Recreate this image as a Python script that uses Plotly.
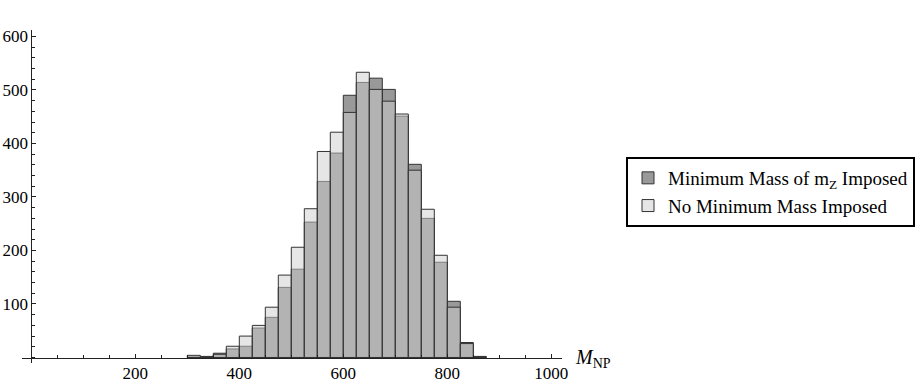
import plotly.graph_objects as go

# histogram bins (left edges, width 25)
bin_start = [300, 325, 350, 375, 400, 425, 450, 475, 500, 525, 550, 575,
             600, 625, 650, 675, 700, 725, 750, 775, 800, 825, 850]
bin_width = 25

# counts
min_mass = [1, 2, 8, 16, 21, 55, 75, 131, 165, 253, 329, 382,
            490, 514, 522, 501, 451, 361, 260, 178, 105, 28, 2]
no_min_mass = [4, 1, 6, 21, 40, 60, 94, 154, 206, 278, 385, 421,
               458, 533, 501, 479, 455, 350, 277, 191, 94, 26, 1]

x_ticks = [200, 400, 600, 800, 1000]
y_ticks = [100, 200, 300, 400, 500, 600]

W, H = 923, 384
FONT = "Times New Roman, Liberation Serif, serif"
AX = "#222222"

fig = go.Figure()

# dark set drawn first, light set on top; half-transparent fills mix to mid grey
fig.add_trace(go.Bar(
    x=bin_start, y=min_mass, width=bin_width, offset=0,
    name="Minimum Mass of m<sub>Z</sub> Imposed",
    marker=dict(color="rgba(51,51,51,0.5)", line=dict(color="#333333", width=1)),
))
fig.add_trace(go.Bar(
    x=bin_start, y=no_min_mass, width=bin_width, offset=0,
    name="No Minimum Mass Imposed",
    marker=dict(color="rgba(205,205,205,0.5)", line=dict(color="#333333", width=1)),
))

fig.update_layout(
    width=W, height=H,
    margin=dict(l=0, r=0, t=0, b=0, autoexpand=False),
    paper_bgcolor="white", plot_bgcolor="white",
    barmode="overlay",
    font=dict(family=FONT, size=17, color="black"),
    showlegend=True,
    legend=dict(
        x=626 / W, y=1 - 157 / H, xanchor="left", yanchor="top",
        bgcolor="white", bordercolor="black", borderwidth=2,
        font=dict(family=FONT, size=19, color="black"),
        traceorder="normal",
    ),
    xaxis=dict(
        domain=[21.7 / W, 561.7 / W], range=[-18.5, 1020],
        anchor="free", position=1 - 357.5 / H, automargin=False,
        showline=True, linecolor=AX, linewidth=1,
        showgrid=False, zeroline=False,
        ticks="inside", ticklen=4, tickcolor=AX,
        tickvals=x_ticks, ticktext=[str(v) for v in x_ticks],
        minor=dict(ticks="inside", dtick=50, tick0=0, ticklen=2.5, tickcolor=AX),
        tickfont=dict(family=FONT, size=17, color="black"),
    ),
    yaxis=dict(
        domain=[1 - 363 / H, 1 - 30 / H], range=[-10.3, 612],
        anchor="free", position=31.3 / W, automargin=False,
        showline=True, linecolor=AX, linewidth=1,
        showgrid=False, zeroline=False,
        ticks="inside", ticklen=4, tickcolor=AX,
        tickvals=y_ticks, ticktext=[str(v) for v in y_ticks],
        minor=dict(ticks="inside", dtick=20, tick0=0, ticklen=2.5, tickcolor=AX),
        tickfont=dict(family=FONT, size=17, color="black"),
    ),
)

# axis label at the end of the horizontal axis
fig.add_annotation(
    text="<i>M</i><sub>NP</sub>", xref="paper", yref="paper",
    x=573 / W, y=1 - 358 / H, xanchor="left", yanchor="middle",
    showarrow=False, font=dict(family=FONT, size=20, color="black"),
)

# page body has a default 8px margin; drop it so the figure sits at the corner
fig.write_html("out.html", config={"displayModeBar": False},
               post_script="document.body.style.margin='0';")
